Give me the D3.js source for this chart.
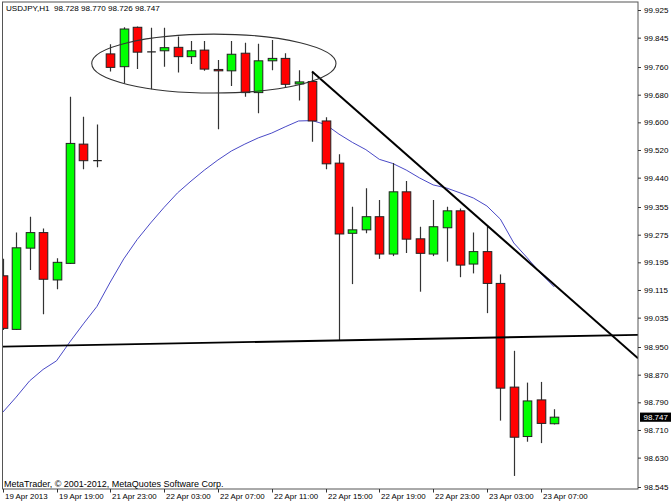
<!DOCTYPE html>
<html><head><meta charset="utf-8">
<script src="https://cdn.jsdelivr.net/npm/d3@7/dist/d3.min.js"></script>
<style>
html,body{margin:0;padding:0;background:#fff;}
svg{display:block;}
text{font-family:Tahoma,"Liberation Sans",Arial,sans-serif;}
</style></head>
<body>
<svg id="chart" width="672" height="504"></svg>
<script>
// ---- data ----
const symbolTitle = "USDJPY,H1  98.728 98.770 98.726 98.747";
const copyright = "MetaTrader, \u00a9 2001-2012, MetaQuotes Software Corp.";
const opens  = [99.156,99.001,99.236,99.281,99.144,99.192,99.537,99.489,99.798,99.761,99.875,99.804,99.807,99.817,99.790,99.809,99.753,99.749,99.800,99.686,99.778,99.785,99.711,99.718,99.604,99.482,99.279,99.289,99.327,99.219,99.399,99.263,99.219,99.295,99.344,99.190,99.226,99.134,98.834,98.691,98.797,98.728];
const highs  = [99.205,99.281,99.327,99.293,99.207,99.674,99.616,99.594,99.826,99.875,99.877,99.874,99.874,99.848,99.835,99.835,99.780,99.835,99.830,99.827,99.838,99.800,99.751,99.747,99.615,99.508,99.356,99.409,99.375,99.482,99.430,99.298,99.375,99.356,99.351,99.281,99.298,99.160,98.939,98.847,98.849,98.770];
const lows   = [98.999,98.999,99.173,99.045,99.117,99.190,99.464,99.470,99.747,99.713,99.754,99.696,99.761,99.744,99.769,99.749,99.580,99.705,99.674,99.626,99.751,99.700,99.663,99.544,99.464,98.970,99.132,99.279,99.205,99.213,99.222,99.110,99.213,99.197,99.152,99.163,99.048,98.737,98.577,98.676,98.672,98.726];
const closes = [99.004,99.237,99.281,99.146,99.195,99.539,99.489,99.489,99.759,99.870,99.803,99.804,99.816,99.790,99.807,99.754,99.749,99.797,99.686,99.778,99.785,99.710,99.717,99.604,99.480,99.277,99.289,99.327,99.219,99.399,99.262,99.221,99.298,99.344,99.187,99.226,99.134,98.831,98.689,98.794,98.729,98.747];
const maValues = [98.761,98.805,98.852,98.885,98.910,98.965,99.017,99.067,99.138,99.205,99.261,99.309,99.354,99.396,99.430,99.462,99.491,99.517,99.537,99.555,99.569,99.587,99.604,99.605,99.594,99.566,99.542,99.521,99.493,99.481,99.462,99.439,99.419,99.410,99.396,99.381,99.358,99.320,99.251,99.208,99.163,99.124];
const priceTicks = [99.925,99.845,99.760,99.680,99.600,99.520,99.440,99.355,99.275,99.195,99.115,99.035,98.950,98.870,98.790,98.710,98.630,98.545];
const timeTickIndex = [0,4,8,12,16,20,24,28,32,36,40];
const timeTickLabels = ["19 Apr 2013","19 Apr 19:00","21 Apr 23:00","22 Apr 03:00","22 Apr 07:00","22 Apr 11:00","22 Apr 15:00","22 Apr 19:00","22 Apr 23:00","23 Apr 03:00","23 Apr 07:00"];
const currentPrice = 98.747;
// drawn objects: [bar index, price]
const supportLine = [[0, 98.951],[47, 98.985]];
const trendLine = [[23, 99.747],[36, 99.302]];
const ellipseCenter = [15.7, 99.770];
const ellipseRadius = [9.08, 0.0853]; // bars, price

// ---- layout ----
const svg = d3.select("#chart");
const pLeft = 2.5, pRight = 638, pTop = 2, pBottom = 489;
const x = d3.scaleLinear().domain([0, 41]).range([2.7, 554.15]);
const y = d3.scaleLinear().domain([98.545, 99.925]).range([487, 10]);
const bodyW = 8.6;

svg.append("defs").append("clipPath").attr("id","plot")
  .append("rect").attr("x",pLeft).attr("y",pTop).attr("width",pRight-pLeft).attr("height",pBottom-pTop);

const plot = svg.append("g").attr("clip-path","url(#plot)");

// moving average
plot.append("path")
  .datum(maValues)
  .attr("fill","none").attr("stroke","#3434c0").attr("stroke-width",0.9)
  .attr("d", d3.line().x((d,i)=>x(i)).y(d=>y(d)));

// candles
const bars = d3.range(opens.length).map(i=>({i,o:opens[i],h:highs[i],l:lows[i],c:closes[i]}));
const g = plot.selectAll("g.c").data(bars).join("g");
g.append("line")
  .attr("x1",d=>Math.round(x(d.i))+0.5).attr("x2",d=>Math.round(x(d.i))+0.5)
  .attr("y1",d=>y(d.h)).attr("y2",d=>y(d.l))
  .attr("stroke","#333").attr("stroke-width",1.2);
g.each(function(d){
  const sel = d3.select(this);
  const yt = y(Math.max(d.o,d.c)), yb = y(Math.min(d.o,d.c));
  const cx = Math.round(x(d.i))+0.5;
  if (yb - yt < 1) {
    sel.append("line").attr("x1",cx-bodyW/2).attr("x2",cx+bodyW/2)
      .attr("y1",yt).attr("y2",yt).attr("stroke","#222").attr("stroke-width",1.2);
  } else {
    sel.append("rect").attr("x",cx-bodyW/2).attr("y",yt)
      .attr("width",bodyW).attr("height",yb-yt)
      .attr("fill", d.c>=d.o ? "#00ff00" : "#ff0000")
      .attr("stroke","#222").attr("stroke-width",1);
  }
});

// helper to extend a line through two anchor points across the plot
function extended(pts, x0, x1){
  const [a,b] = pts;
  const ax = x(a[0]), ay = y(a[1]), bx = x(b[0]), by = y(b[1]);
  const k = (by-ay)/(bx-ax);
  return [[x0, ay + k*(x0-ax)],[x1, ay + k*(x1-ax)]];
}
const sl = extended(supportLine, pLeft, pRight);
plot.append("line").attr("x1",sl[0][0]).attr("y1",sl[0][1]).attr("x2",sl[1][0]).attr("y2",sl[1][1])
  .attr("stroke","#000").attr("stroke-width",1.8);
const tl = extended(trendLine, x(trendLine[0][0]), pRight);
plot.append("line").attr("x1",tl[0][0]).attr("y1",tl[0][1]).attr("x2",tl[1][0]).attr("y2",tl[1][1])
  .attr("stroke","#000").attr("stroke-width",2);

// ellipse
const ecx = x(ellipseCenter[0]), ecy = y(ellipseCenter[1]);
plot.append("ellipse").attr("cx",ecx).attr("cy",ecy)
  .attr("rx", x(ellipseCenter[0]+ellipseRadius[0]) - ecx)
  .attr("ry", ecy - y(ellipseCenter[1]+ellipseRadius[1]))
  .attr("fill","none").attr("stroke","#333").attr("stroke-width",1.1);

// frame
svg.append("rect").attr("x",pLeft).attr("y",pTop).attr("width",pRight-pLeft).attr("height",pBottom-pTop)
  .attr("fill","none").attr("stroke","#555").attr("stroke-width",1);

// price axis
const pa = svg.append("g").attr("transform",`translate(${pRight},0)`)
  .call(d3.axisRight(y).tickValues(priceTicks).tickFormat(d3.format(".3f")).tickSize(3).tickPadding(3));
pa.select(".domain").remove();
pa.selectAll(".tick line").attr("stroke","#333");
pa.selectAll(".tick text").attr("font-size","8px").attr("fill","#000")
  .attr("font-family",'Tahoma,"Liberation Sans",Arial,sans-serif');

// current price box
const cp = svg.append("g");
cp.append("rect").attr("x",640).attr("y",y(currentPrice)-4.6).attr("width",31).attr("height",9.2).attr("fill","#000");
cp.append("text").attr("x",643.5).attr("y",y(currentPrice)).attr("dy","0.34em")
  .attr("font-size","8px").attr("fill","#fff").text(d3.format(".3f")(currentPrice));

// time axis
const ta = svg.append("g").attr("transform",`translate(0,${pBottom})`);
timeTickIndex.forEach((ti,k)=>{
  const tx = Math.round(x(ti))+0.5;
  ta.append("line").attr("x1",tx).attr("x2",tx).attr("y1",0).attr("y2",3.5).attr("stroke","#333");
  ta.append("text").attr("x",tx+1.5).attr("y",10).attr("font-size","7.9px").attr("fill","#000").text(timeTickLabels[k]);
});

// texts
svg.append("text").attr("x",6).attr("y",11).attr("font-size","8.1px").attr("fill","#000")
  .style("white-space","pre").text(symbolTitle);
svg.append("text").attr("x",4).attr("y",486.5).attr("font-size","9px").attr("fill","#000").text(copyright);
</script>
</body></html>
